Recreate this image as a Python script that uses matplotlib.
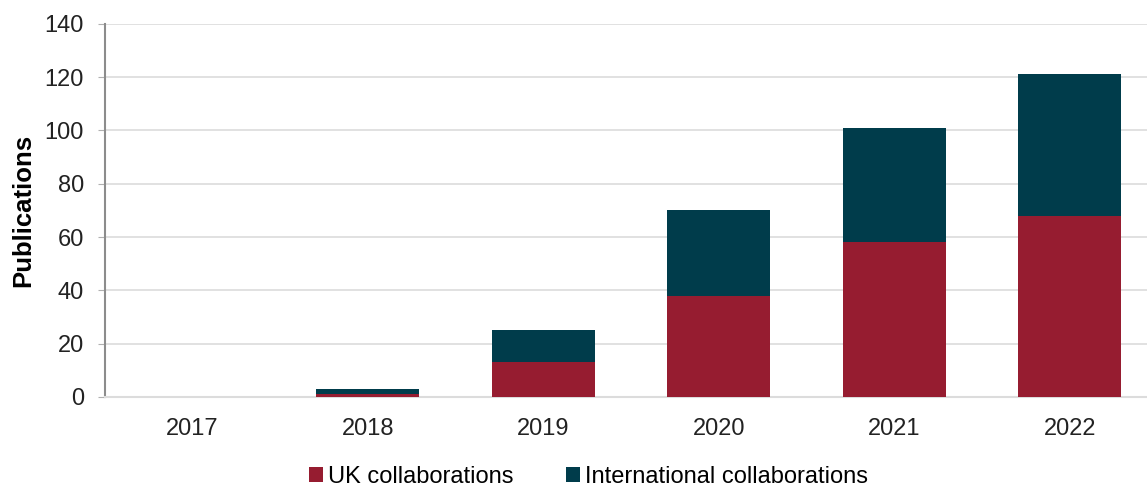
import numpy as np
import matplotlib.pyplot as plt

plt.rcParams['font.family'] = ['Liberation Sans', 'DejaVu Sans']

years = ['2017', '2018', '2019', '2020', '2021', '2022']
uk_collab = [0, 1, 13, 38, 58, 68]
intl_collab = [0, 2, 12, 32, 43, 53]

red = '#961C30'
teal = '#003C4B'

fig = plt.figure(figsize=(11.47, 4.87), dpi=100)
ax = fig.add_axes([0.0913, 0.185, 0.918, 0.766])

x = np.arange(len(years))
ax.bar(x, uk_collab, width=0.587, color=red, label='UK collaborations', zorder=3)
ax.bar(x, intl_collab, width=0.587, bottom=uk_collab, color=teal,
       label='International collaborations', zorder=3)

ax.set_xlim(-0.5, len(years) - 0.5)
ax.set_ylim(0, 140)
ax.set_yticks(range(0, 141, 20))
ax.set_xticks(x)
ax.set_xticklabels(years)
ax.tick_params(axis='both', labelsize=17, colors='#222222')
ax.tick_params(axis='x', length=0, pad=15)
ax.tick_params(axis='y', length=5, color='#b0b0b0', pad=10)
ax.grid(axis='y', color='#dcdcdc', linewidth=1.2, zorder=0)

for s in ['top', 'right']:
    ax.spines[s].set_visible(False)
ax.spines['left'].set_color('#8c8c8c')
ax.spines['left'].set_linewidth(1.5)
ax.spines['bottom'].set_color('#dcdcdc')
ax.spines['bottom'].set_linewidth(1.5)

ax.set_ylabel('Publications', fontsize=18.5, fontweight='bold', labelpad=7)

fig.legend(*ax.get_legend_handles_labels(), loc='center',
           bbox_to_anchor=(0.513, 0.02), ncol=2, frameon=False,
           fontsize=17, handlelength=0.6, handleheight=0.6, handletextpad=0.2,
           columnspacing=2.2)

fig.savefig('out.png', dpi=100)
